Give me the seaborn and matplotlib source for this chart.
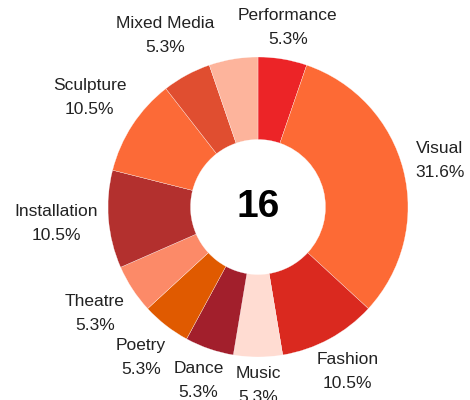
import math
import matplotlib
matplotlib.use("Agg")
import matplotlib.pyplot as plt
import seaborn as sns

# slice data, clockwise from 12 o'clock
categories = ["Performance", "Visual", "Fashion", "Music", "Dance", "Poetry",
              "Theatre", "Installation", "Sculpture", "Mixed Media", ""]
counts = [1, 6, 2, 1, 1, 1, 1, 2, 2, 1, 1]
colors = ["#EC2427", "#FD6A35", "#DA291F", "#FFDCD2", "#A21F2C", "#E05A00",
          "#FC8A68", "#B3302E", "#FC6A37", "#E04E30", "#FDB49C"]
center_value = "16"

# distance of each label from the centre (in outer radii)
label_r = [1.21, 1.25, 1.25, 1.19, 1.22, 1.27, 1.3, 1.35, 1.34, 1.3, 1.2]

sns.set_theme(style="white")
plt.rcParams["font.family"] = ["Liberation Sans", "DejaVu Sans"]

fig = plt.figure(figsize=(4.7, 4.0), dpi=100)
ax = fig.add_axes([0, 0, 1, 1])

total = sum(counts)
labels = [f"{c}\n{n / total * 100:.1f}%" if c else "" for c, n in zip(categories, counts)]

wedges, texts = ax.pie(
    counts,
    colors=colors,
    startangle=90,
    counterclock=False,
    wedgeprops=dict(width=0.55, edgecolor="white", linewidth=0.2),
)

for w, lab, r in zip(wedges, labels, label_r):
    ang = math.radians((w.theta1 + w.theta2) / 2)
    ax.text(r * math.cos(ang), r * math.sin(ang), lab, ha="center", va="center",
            fontsize=12.5, color="#222222", linespacing=1.75)

ax.text(0, 0, center_value, ha="center", va="center", fontsize=28,
        fontweight="bold", color="black")

ax.set_xlim(-258 / 150, 212 / 150)
ax.set_ylim(-193 / 150, 207 / 150)
ax.set_aspect("equal")
ax.axis("off")

fig.savefig("out.png", dpi=100)
